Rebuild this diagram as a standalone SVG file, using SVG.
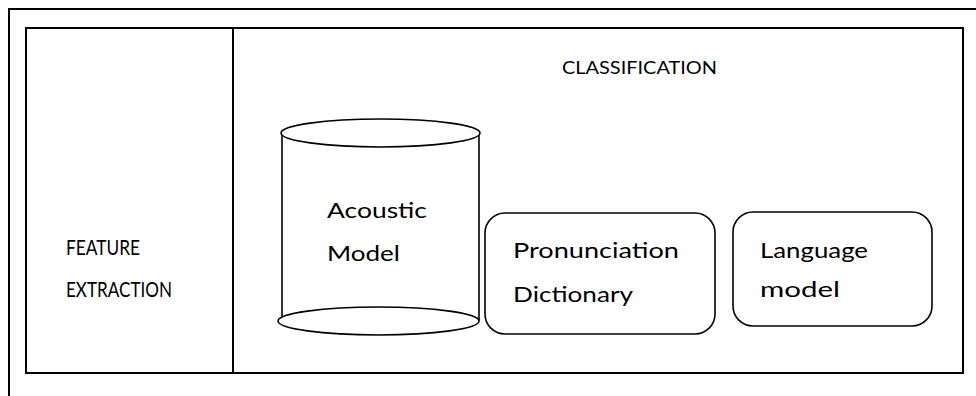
<svg xmlns="http://www.w3.org/2000/svg" width="976" height="396" viewBox="0 0 976 396">
<style>
.ln{stroke:#000;stroke-width:2;fill:none}
.sh{stroke:#000;stroke-width:1.6;fill:#fff}
.t{font-family:Lato,"Liberation Sans",sans-serif;fill:#000}
</style>
<rect width="976" height="396" fill="#fff"/>
<g id="frame">
<line class="ln" x1="8" y1="9" x2="976" y2="9"/>
<line class="ln" x1="9" y1="8" x2="9" y2="396"/>
<rect class="ln" x="26" y="28" width="937" height="345"/>
<line class="ln" x1="233" y1="28" x2="233" y2="373"/>
</g>
<g id="feature-extraction">
<text class="t" x="66" y="255" font-size="21" textLength="74" lengthAdjust="spacingAndGlyphs">FEATURE</text>
<text class="t" x="66" y="297" font-size="21" textLength="106" lengthAdjust="spacingAndGlyphs">EXTRACTION</text>
</g>
<g id="classification">
<text class="t" x="562" y="74" font-size="18" textLength="155" lengthAdjust="spacingAndGlyphs">CLASSIFICATION</text>
</g>
<g id="acoustic-model">
<line class="sh" x1="282" y1="133" x2="282" y2="321"/>
<line class="sh" x1="479" y1="133" x2="479" y2="321"/>
<ellipse class="sh" cx="380.5" cy="133" rx="99.5" ry="14"/>
<ellipse class="sh" cx="378.5" cy="321" rx="100.5" ry="14"/>
<text class="t" x="327" y="218" font-size="22" textLength="100" lengthAdjust="spacingAndGlyphs">Acoustic</text>
<text class="t" x="327" y="261" font-size="22" textLength="73" lengthAdjust="spacingAndGlyphs">Model</text>
</g>
<g id="pronunciation-dictionary">
<rect class="sh" x="485" y="213" width="230" height="121" rx="20"/>
<text class="t" x="513" y="258" font-size="22" textLength="166" lengthAdjust="spacingAndGlyphs">Pronunciation</text>
<text class="t" x="513" y="302" font-size="22" textLength="120" lengthAdjust="spacingAndGlyphs">Dictionary</text>
</g>
<g id="language-model">
<rect class="sh" x="733" y="212" width="199" height="114" rx="20"/>
<text class="t" x="760" y="258" font-size="22" textLength="108" lengthAdjust="spacingAndGlyphs">Language</text>
<text class="t" x="760" y="297" font-size="22" textLength="80" lengthAdjust="spacingAndGlyphs">model</text>
</g>
<g id="connectors"></g>
</svg>
